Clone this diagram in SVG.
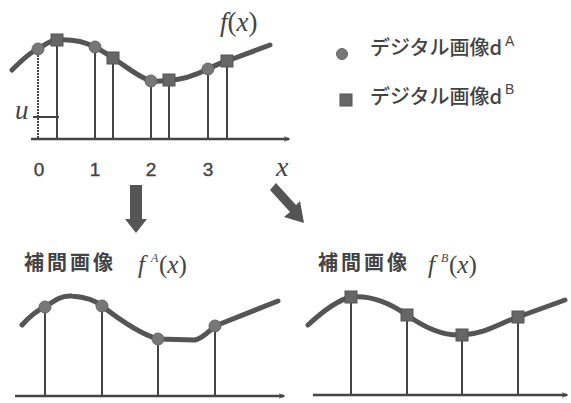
<svg xmlns="http://www.w3.org/2000/svg" width="571" height="403" viewBox="0 0 571 403">
<defs>
<style>
.curve{fill:none;stroke:#555;stroke-width:5;stroke-linecap:round;stroke-linejoin:round}
.vl{stroke:#444;stroke-width:2}
.ax{stroke:#444;stroke-width:2.5}
.cm{fill:#777;stroke:#666;stroke-width:1}
.sm{fill:#666;stroke:#555;stroke-width:1}
.jp{font-family:"Noto Sans CJK JP","Noto Sans",sans-serif;fill:#444}
.it{font-family:"Liberation Serif",serif;font-style:italic;fill:#444}
.up{font-style:normal}
.num{font-family:"Liberation Sans",sans-serif;fill:#444;font-size:19px;stroke:#444;stroke-width:0.4}
.sup{font-family:"Liberation Sans",sans-serif;fill:#444;font-size:14px}
.big{fill:#555}
</style>
<marker id="ah" viewBox="0 0 10 10" refX="9" refY="5" markerWidth="6" markerHeight="6" orient="auto" markerUnits="userSpaceOnUse"><path d="M0,1 L10,5 L0,9" fill="none" stroke="#444" stroke-width="1.5"/></marker>
</defs>
<rect width="571" height="403" fill="#fff"/>

<g id="top-graph">
<line class="ax" x1="31" y1="139" x2="289" y2="139" marker-end="url(#ah)"/>
<line class="vl" x1="38" y1="49" x2="38" y2="139" stroke-dasharray="2,1" stroke-width="3" stroke="#333"/>
<line class="vl" x1="57" y1="40" x2="57" y2="139"/>
<line class="vl" x1="95" y1="47" x2="95" y2="139"/>
<line class="vl" x1="113" y1="58" x2="113" y2="139"/>
<line class="vl" x1="151" y1="81" x2="151" y2="139"/>
<line class="vl" x1="169" y1="80" x2="169" y2="139"/>
<line class="vl" x1="208" y1="69" x2="208" y2="139"/>
<line class="vl" x1="227" y1="61" x2="227" y2="139"/>
<path class="curve" d="M12,70 C20,62 30,52 38,49 C45,45 50,40 57,40 C72,39 85,42 95,47 C103,51 108,55 113,58 C128,68 140,78 151,81 C157,82 163,81 169,80 C185,80 198,74 208,69 C214,66 220,63 227,61 L270,45"/>
<circle class="cm" cx="38" cy="49" r="6"/>
<circle class="cm" cx="95" cy="47" r="6"/>
<circle class="cm" cx="151" cy="81" r="6"/>
<circle class="cm" cx="208" cy="69" r="6"/>
<rect class="sm" x="51" y="34" width="12" height="12"/>
<rect class="sm" x="107" y="52" width="12" height="12"/>
<rect class="sm" x="163" y="74" width="12" height="12"/>
<rect class="sm" x="221" y="55" width="12" height="12"/>
<line class="vl" x1="33" y1="117" x2="59" y2="117"/>
<text class="it" x="15" y="119" font-size="27">u</text>
<text class="it" x="220" y="31" font-size="27">f<tspan class="up">(</tspan>x<tspan class="up">)</tspan></text>
<text class="num" x="39" y="176" text-anchor="middle">0</text>
<text class="num" x="95" y="176" text-anchor="middle">1</text>
<text class="num" x="151" y="176" text-anchor="middle">2</text>
<text class="num" x="208" y="176" text-anchor="middle">3</text>
<text class="it" x="276" y="176" font-size="28">x</text>
</g>

<g id="legend">
<circle class="cm" cx="342" cy="54" r="5.5"/>
<text class="jp" x="370" y="55" font-size="20" font-weight="500">デジタル画像d</text>
<text class="sup" x="505" y="46">A</text>
<rect class="sm" x="340" y="94" width="12" height="12"/>
<text class="jp" x="370" y="104" font-size="20" font-weight="500">デジタル画像d</text>
<text class="sup" x="505" y="94">B</text>
</g>

<g id="connectors">
<path class="big" d="M130,185 L142,185 L142,219 L147,219 L136,233 L125,219 L130,219 Z"/>
<path class="big" d="M270,190 L276,183 L296,205 L300,201 L304,223 L284,217 L290,212 Z"/>
</g>

<g id="interp-A">
<text class="jp" x="24" y="270" font-size="20" font-weight="bold" letter-spacing="3">補間画像</text>
<text class="it" x="138" y="273" font-size="25">f</text>
<text class="it" x="151" y="262" font-size="12">A</text>
<text class="it" x="159" y="273" font-size="25"><tspan class="up">(</tspan>x<tspan class="up">)</tspan></text>
<line class="ax" x1="15" y1="396" x2="284" y2="396" marker-end="url(#ah)"/>
<line class="vl" x1="45" y1="307" x2="45" y2="396"/>
<line class="vl" x1="102" y1="306" x2="102" y2="396"/>
<line class="vl" x1="158" y1="339" x2="158" y2="396"/>
<line class="vl" x1="215" y1="326" x2="215" y2="396"/>
<path class="curve" d="M22,325 C30,316 38,310 45,307 C55,300 62,295 72,296 C85,297 95,300 102,306 C120,320 140,334 158,339 L195,340 C203,338 208,332 215,326 L278,301"/>
<circle class="cm" cx="45" cy="307" r="6"/>
<circle class="cm" cx="102" cy="306" r="6"/>
<circle class="cm" cx="158" cy="339" r="6"/>
<circle class="cm" cx="215" cy="326" r="6"/>
</g>

<g id="interp-B">
<text class="jp" x="318" y="270" font-size="20" font-weight="bold" letter-spacing="3">補間画像</text>
<text class="it" x="428" y="273" font-size="25">f</text>
<text class="it" x="441" y="262" font-size="12">B</text>
<text class="it" x="449" y="273" font-size="25"><tspan class="up">(</tspan>x<tspan class="up">)</tspan></text>
<line class="ax" x1="313" y1="395" x2="567" y2="395" marker-end="url(#ah)"/>
<line class="vl" x1="351" y1="297" x2="351" y2="395"/>
<line class="vl" x1="407" y1="315" x2="407" y2="395"/>
<line class="vl" x1="462" y1="335" x2="462" y2="395"/>
<line class="vl" x1="518" y1="317" x2="518" y2="395"/>
<path class="curve" d="M308,325 C322,312 338,300 351,297 C370,295 390,303 407,315 C425,328 445,336 462,335 C485,334 500,323 518,317 L565,300"/>
<rect class="sm" x="345" y="291" width="12" height="12"/>
<rect class="sm" x="401" y="309" width="12" height="12"/>
<rect class="sm" x="456" y="329" width="12" height="12"/>
<rect class="sm" x="512" y="311" width="12" height="12"/>
</g>
</svg>
